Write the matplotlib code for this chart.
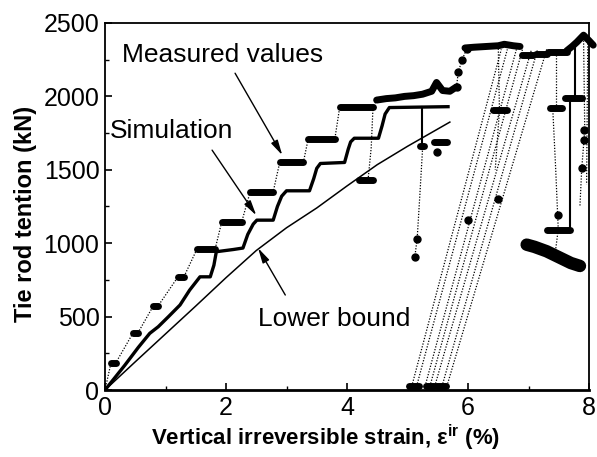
import numpy as np
import matplotlib
matplotlib.use("Agg")
import matplotlib.pyplot as plt
from matplotlib.ticker import MultipleLocator

# ---- measured values: loading plateaus (start strain, end strain, tension)
plat_x0 = [0.10, 0.46, 0.80, 1.20, 1.52, 1.93, 2.40, 2.89, 3.36, 3.88]
plat_x1 = [0.18, 0.54, 0.88, 1.30, 1.82, 2.26, 2.78, 3.28, 3.80, 4.43]
plat_y = [186, 386, 574, 767, 960, 1146, 1350, 1554, 1713, 1928]

# measured band near 2000 kN, jump, and top band near 2330 kN
band_x = [4.49, 4.65, 4.80, 4.95, 5.10, 5.25, 5.40, 5.48, 5.58, 5.70, 5.81]
band_y = [1975, 1985, 1990, 2000, 2005, 2015, 2035, 2095, 2040, 2035, 2065]
jump_x = [5.81, 5.84, 5.90, 5.98]
jump_y = [2065, 2167, 2246, 2326]
top_x = [5.95, 6.10, 6.30, 6.50, 6.60, 6.75, 6.86]
top_y = [2330, 2335, 2340, 2345, 2355, 2345, 2340]
seg_x0 = [6.90, 7.13, 7.33]
seg_x1 = [7.08, 7.30, 7.63]
seg_y = [2280, 2291, 2303]
end_x = [7.63, 7.72, 7.80, 7.91, 8.00, 8.07]
end_y = [2310, 2340, 2370, 2417, 2380, 2349]

# reloading lines between the zero-tension points and the top band
reload_bot = [5.07, 5.15, 5.29, 5.37, 5.45, 5.57, 5.65]
reload_top = [6.55, 6.65, 6.80, 6.90, 7.05, 7.15, 7.30]
reload_ylo = 25
reload_yhi = 2320

# drops and blobs after failure
drop_blob_x0 = [4.20, 5.20, 5.43, 6.42, 7.36, 7.60, 7.30, 5.03, 5.31, 5.47]
drop_blob_x1 = [4.43, 5.27, 5.65, 6.64, 7.55, 7.88, 7.69, 5.19, 5.43, 5.63]
drop_blob_y = [1430, 1660, 1690, 1906, 1924, 1992, 1090, 25, 25, 25]
iso_x = [5.12, 5.16, 5.48, 6.00, 6.49, 7.91, 7.91, 7.88, 7.49]
iso_y = [903, 1032, 1622, 1157, 1298, 1770, 1702, 1509, 1190]
big_x = [6.97, 7.10, 7.30, 7.50, 7.70, 7.85]
big_y = [990, 975, 945, 905, 865, 845]

# dotted drop paths (strain list, tension list)
drops = [
    ([4.43, 4.40, 4.35], [1928, 1650, 1440]),
    ([5.25, 5.20, 5.16, 5.12], [1650, 1300, 1032, 903]),
    ([6.50, 6.52, 6.45], [2345, 1906, 1500]),
    ([7.45, 7.45], [2303, 1924]),
    ([7.40, 7.45, 7.49], [1924, 1500, 1112]),
    ([7.49, 7.45], [1090, 960]),
    ([7.91, 7.93, 7.88, 7.85], [2400, 1770, 1509, 1250]),
    ([7.98, 7.96], [2380, 1400]),
]
solid_drops = [
    ([5.24, 5.24], [1930, 1640]),
    ([7.77, 7.77], [2330, 1992]),
    ([7.69, 7.69], [1992, 1110]),
]

# ---- simulation
sim_x = [0, 0.33, 0.55, 0.74, 0.88, 1.05, 1.24, 1.40, 1.57, 1.74, 1.80, 1.84,
         2.12, 2.28, 2.36, 2.45, 2.51, 2.78, 2.85, 2.92, 3.00, 3.38, 3.45, 3.50,
         3.56, 3.96, 4.02, 4.06, 4.12, 4.52, 4.58, 4.63, 4.70, 5.67]
sim_y = [0, 170, 290, 386, 431, 500, 579, 681, 771, 771, 850, 942,
         957, 967, 1060, 1130, 1157, 1157, 1250, 1320, 1357, 1357, 1440, 1510,
         1543, 1550, 1640, 1690, 1715, 1715, 1800, 1880, 1924, 1930]

# ---- lower bound
lb_x = [0, 0.5, 1.0, 1.5, 2.0, 2.5, 3.0, 3.5, 4.0, 4.5, 5.0, 5.7]
lb_y = [0, 192, 382, 572, 765, 950, 1105, 1240, 1390, 1535, 1660, 1825]

plt.rcParams["font.family"] = ["Liberation Sans", "DejaVu Sans"]
plt.rcParams["mathtext.fontset"] = "custom"
plt.rcParams["mathtext.bf"] = "Liberation Sans:bold"
plt.rcParams["mathtext.rm"] = "Liberation Sans:bold"
plt.rcParams["mathtext.default"] = "bf"

fig = plt.figure(figsize=(5.97, 4.57), dpi=100)
ax = fig.add_axes([105 / 597, 1 - 390 / 457, 484 / 597, 367 / 457])

dot_style = dict(color="black", lw=0.9, linestyle=(0, (1, 1.3)))
blob_style = dict(color="black", lw=5, solid_capstyle="round")

# measured loading path: dotted connectors + thick plateaus
path_x, path_y = [0.0], [0.0]
for a, b, y in zip(plat_x0, plat_x1, plat_y):
    path_x += [a, b]
    path_y += [y, y]
path_x += [band_x[0]]
path_y += [band_y[0]]
ax.plot(path_x, path_y, **dot_style)
for a, b, y in zip(plat_x0, plat_x1, plat_y):
    ax.plot([a, b], [y, y], **blob_style)

ax.plot(band_x, band_y, **blob_style)
ax.plot(jump_x, jump_y, **dot_style)
ax.plot(jump_x, jump_y, "o", color="black", ms=5)
ax.plot(top_x, top_y, clip_on=False, **blob_style)
for a, b, y in zip(seg_x0, seg_x1, seg_y):
    ax.plot([a, b], [y, y], **blob_style)
ax.plot(end_x, end_y, clip_on=False, **blob_style)

for xb, xt in zip(reload_bot, reload_top):
    ax.plot([xb, xt], [reload_ylo, reload_yhi], **dot_style)

for xs, ys in drops:
    ax.plot(xs, ys, **dot_style)
for xs, ys in solid_drops:
    ax.plot(xs, ys, color="black", lw=1.5)

for a, b, y in zip(drop_blob_x0, drop_blob_x1, drop_blob_y):
    ax.plot([a, b], [y, y], **blob_style)
ax.plot(iso_x, iso_y, "o", color="black", ms=5)
ax.plot(big_x, big_y, color="black", lw=9, solid_capstyle="round")

# simulation and lower bound
ax.plot(sim_x, sim_y, color="black", lw=2.4)
ax.plot(lb_x, lb_y, color="black", lw=1.1)

# annotations
arrow = dict(arrowstyle="-|>,head_length=0.9,head_width=0.22",
             color="black", lw=1.0, mutation_scale=10, shrinkA=0, shrinkB=0)
ax.text(0.28, 2280, "Measured values", fontsize=19, va="center", ha="left")
ax.annotate("", xy=(2.93, 1600), xytext=(2.15, 2158), arrowprops=arrow)
ax.text(0.08, 1763, "Simulation", fontsize=19, va="center", ha="left")
ax.annotate("", xy=(2.50, 1190), xytext=(1.77, 1634), arrowprops=arrow)
ax.text(2.53, 483, "Lower bound", fontsize=19, va="center", ha="left")
ax.annotate("", xy=(2.53, 967), xytext=(2.98, 647), arrowprops=arrow)

ax.set_xlim(0, 8)
ax.set_ylim(0, 2500)
ax.xaxis.set_major_locator(MultipleLocator(2))
ax.xaxis.set_minor_locator(MultipleLocator(1))
ax.yaxis.set_major_locator(MultipleLocator(500))
ax.yaxis.set_minor_locator(MultipleLocator(250))
ax.tick_params(which="both", direction="in", top=False, right=False)
ax.tick_params(which="major", length=5, width=1.2, labelsize=18, pad=4)
ax.tick_params(which="minor", length=3, width=1.0)
for side in ["left", "top", "right"]:
    ax.spines[side].set_linewidth(1.3)
ax.spines["bottom"].set_linewidth(2.0)

ax.set_xlabel(r"Vertical irreversible strain, ε$^{ir}$ (%)",
              fontsize=16, fontweight="bold")
ax.xaxis.set_label_coords(0.455, -0.09, transform=ax.transAxes)
ax.xaxis.label.set_va("top")
ax.set_ylabel("Tie rod tention (kN)", fontsize=17, fontweight="bold")
ax.yaxis.set_label_coords(-0.14, 0.48)

fig.savefig("out.png", dpi=100)
